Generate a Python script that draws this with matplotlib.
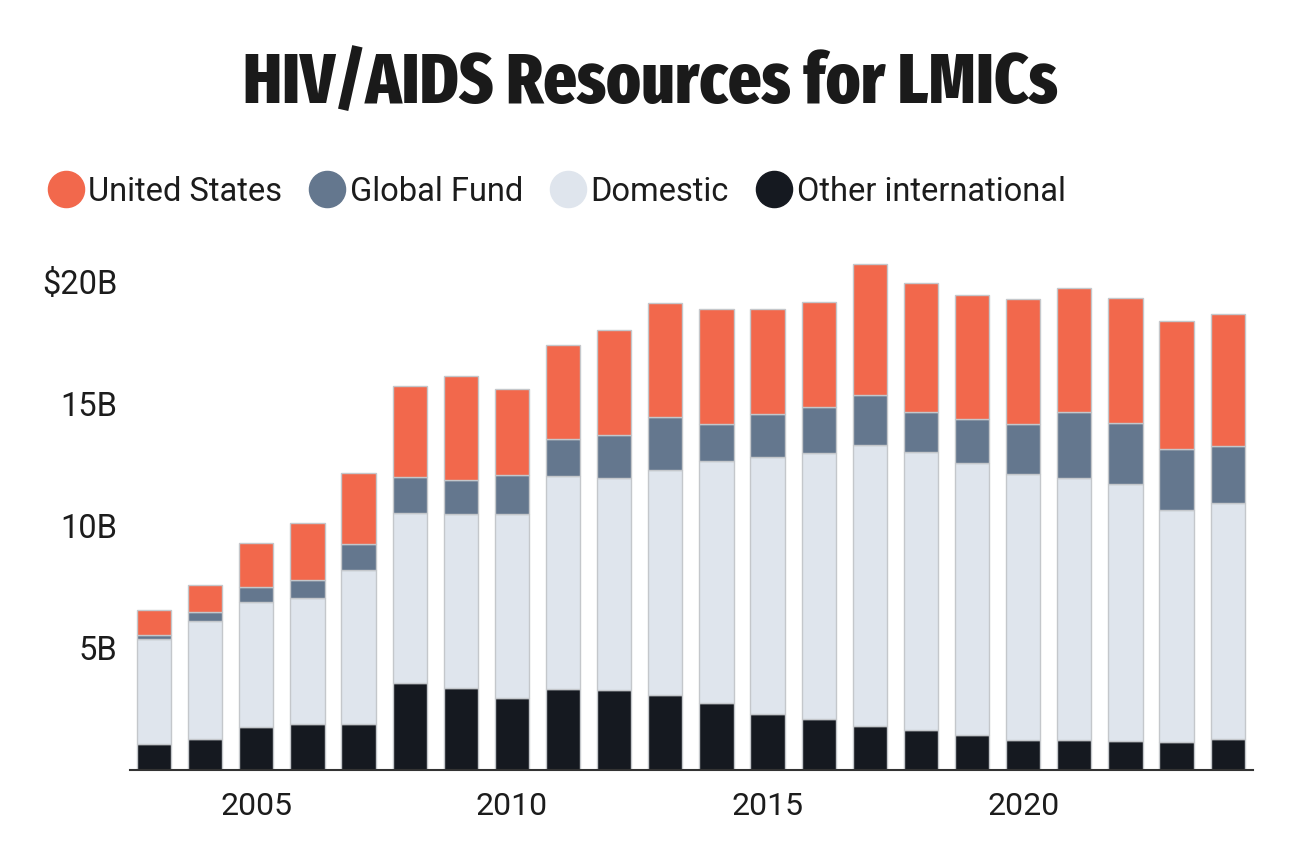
import numpy as np
import matplotlib
matplotlib.use("Agg")
import matplotlib.pyplot as plt
from matplotlib.lines import Line2D
from matplotlib import font_manager

# Data (billions USD)
years = list(range(2003, 2025))
other_intl = [1.04, 1.26, 1.77, 1.89, 1.89, 3.54, 3.37, 2.93, 3.30, 3.27, 3.05,
              2.75, 2.27, 2.09, 1.78, 1.64, 1.41, 1.24, 1.24, 1.20, 1.16, 1.26]
domestic = [4.33, 4.84, 5.11, 5.13, 6.27, 6.97, 7.09, 7.53, 8.73, 8.66, 9.24,
            9.89, 10.53, 10.89, 11.51, 11.37, 11.15, 10.86, 10.69, 10.50, 9.49, 9.68]
global_fund = [0.15, 0.36, 0.61, 0.73, 1.08, 1.47, 1.42, 1.60, 1.49, 1.78, 2.13,
               1.52, 1.76, 1.88, 2.06, 1.64, 1.78, 2.07, 2.70, 2.51, 2.49, 2.33]
united_states = [1.03, 1.10, 1.78, 2.36, 2.89, 3.72, 4.24, 3.53, 3.88, 4.30, 4.67,
                 4.68, 4.28, 4.28, 5.33, 5.28, 5.08, 5.10, 5.09, 5.09, 5.22, 5.40]

series_names = ["United States", "Global Fund", "Domestic", "Other international"]
yticks = [5, 10, 15, 20]
ytick_labels = ["5B", "10B", "15B", "$20B"]
xticks = [2005, 2010, 2015, 2020]

colors = {
    "United States": "#F2684C",
    "Global Fund": "#64778E",
    "Domestic": "#DFE5ED",
    "Other international": "#151920",
}

WEIGHTS = {"semibold": 600, "demibold": 600, "bold": 700, "extra bold": 800,
           "heavy": 800, "black": 900}


def weight_of(f):
    if isinstance(f.weight, int):
        return f.weight
    return WEIGHTS.get(f.weight, 400)


def narrowness(f):
    n, s = f.name, str(f.stretch)
    if "ExtraCondensed" in n or "Extra Condensed" in n or s == "extra-condensed":
        return 0
    if "Narrow" in n:
        return 1
    if "SemiCondensed" in n or "Semi Condensed" in n or s == "semi-condensed":
        return 3
    if "Condensed" in n or s == "condensed":
        return 2
    return 9


# narrowest heavy face for the title
cands = [f for f in font_manager.fontManager.ttflist
         if weight_of(f) >= 600 and narrowness(f) < 9
         and "Italic" not in f.fname and f.style == "normal"]
cands.sort(key=lambda f: (narrowness(f), abs(weight_of(f) - 800)))
if cands:
    title_font = font_manager.FontProperties(fname=cands[0].fname, size=48)
else:
    title_font = font_manager.FontProperties(family=["Roboto", "DejaVu Sans"],
                                             weight="bold", size=48)

body_family = ["Roboto", "DejaVu Sans"]
plt.rcParams["font.family"] = body_family
text_color = "#1c1c1c"

fig = plt.figure(figsize=(13, 8.67), dpi=100)
ax = fig.add_axes([0.1, 0.112, 0.864, 0.592])

stack_order = [("Other international", other_intl), ("Domestic", domestic),
               ("Global Fund", global_fund), ("United States", united_states)]
bottom = np.zeros(len(years))
for name, vals in stack_order:
    vals = np.array(vals)
    ax.bar(years, vals, bottom=bottom, width=0.67, color=colors[name],
           edgecolor="#c4c7cb", linewidth=1.0, zorder=2)
    bottom += vals

ax.set_xlim(2002.53, 2024.5)
ax.set_ylim(0, 21)
ax.set_yticks(yticks)
ax.set_yticklabels(ytick_labels)
ax.set_xticks(xticks)
ax.set_xticklabels([str(x) for x in xticks])
ax.tick_params(axis="y", length=0, pad=9, labelsize=23.5, labelcolor=text_color)
ax.tick_params(axis="x", length=0, pad=16, labelsize=23, labelcolor=text_color)
for s in ["top", "right", "left"]:
    ax.spines[s].set_visible(False)
ax.spines["bottom"].set_color("#333333")
ax.spines["bottom"].set_linewidth(1.5)
ax.spines["bottom"].set_zorder(3)

# Title, sized so it spans roughly the same width as in the reference
title = fig.text(0.5, 0.881, "HIV/AIDS Resources for LMICs", ha="center",
                 va="baseline", color="#1a1a1a", fontproperties=title_font)
renderer = fig.canvas.get_renderer()
w = title.get_window_extent(renderer).width
title.set_fontsize(min(52, 48 * 814 / w))

# Legend
handles = [Line2D([0], [0], marker="o", linestyle="none", markersize=26,
                  markerfacecolor=colors[n], markeredgecolor=colors[n])
           for n in series_names]
leg = fig.legend(handles, series_names, loc="center left",
                 bbox_to_anchor=(0.026, 0.779), ncol=4, frameon=False,
                 fontsize=23.5, handletextpad=0.12, columnspacing=0.8,
                 handlelength=1.15, borderaxespad=0)
for t in leg.get_texts():
    t.set_color(text_color)

fig.savefig("out.png", dpi=100)
